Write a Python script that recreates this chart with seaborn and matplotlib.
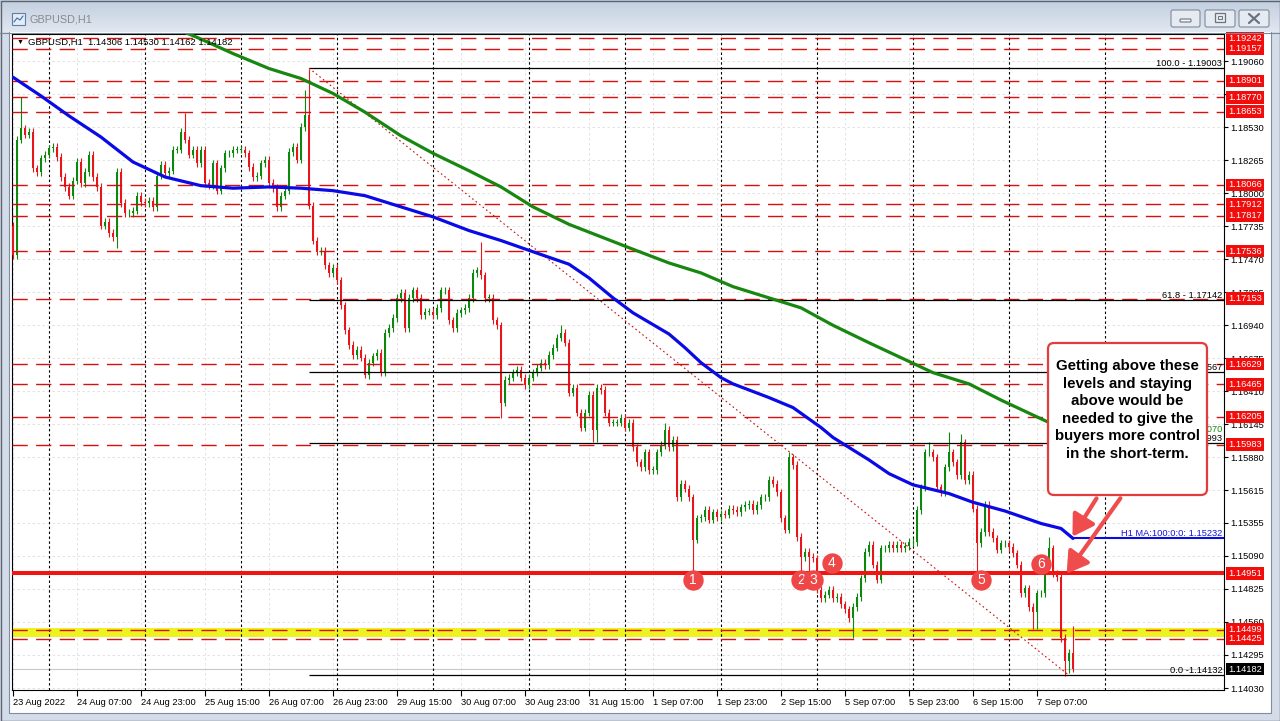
import numpy as np
import matplotlib
matplotlib.use("Agg")
import matplotlib.pyplot as plt
import seaborn as sns
from matplotlib.patches import Rectangle, FancyBboxPatch, FancyArrowPatch
from matplotlib.colors import LinearSegmentedColormap

# ---- data ----------------------------------------------------------------
# hourly GBPUSD closes in pips above 1.1400, bar 0 = 23 Aug 2022 15:00
close_pips = [
    350, 443, 452, 447, 449, 420, 417, 428, 431, 436,
    437, 429, 413, 405, 398, 410, 425, 408, 417, 431,
    413, 405, 374, 377, 368, 365, 417, 392, 384, 384,
    386, 398, 393, 392, 394, 389, 414, 423, 416, 418,
    435, 435, 449, 443, 431, 435, 424, 435, 408, 406,
    424, 402, 420, 432, 432, 435, 435, 435, 432, 421,
    413, 414, 424, 427, 408, 404, 389, 398, 402, 433,
    437, 427, 453, 463, 390, 362, 353, 354, 342, 336,
    340, 330, 310, 290, 278, 270, 274, 268, 254, 264,
    269, 272, 256, 288, 292, 300, 316, 320, 292, 316,
    322, 316, 302, 305, 305, 302, 308, 322, 322, 298,
    292, 304, 306, 308, 316, 336, 338, 334, 316, 316,
    298, 294, 232, 250, 252, 256, 258, 252, 246, 252,
    256, 260, 264, 262, 270, 276, 284, 288, 280, 240,
    244, 224, 212, 224, 238, 210, 244, 242, 224, 216,
    216, 216, 220, 212, 216, 196, 184, 180, 192, 178,
    178, 192, 198, 210, 196, 202, 156, 167, 163, 156,
    122, 139, 140, 146, 138, 144, 140, 143, 142, 147,
    146, 144, 148, 150, 151, 146, 150, 156, 156, 170,
    167, 160, 139, 130, 188, 182, 124, 108, 112, 108,
    107, 82, 75, 78, 82, 75, 76, 70, 66, 59,
    68, 76, 91, 112, 118, 102, 90, 115, 115, 118,
    115, 118, 115, 117, 120, 120, 146, 164, 192, 192,
    188, 164, 160, 180, 192, 184, 174, 200, 170, 174,
    147, 119, 128, 150, 128, 123, 114, 119, 119, 116,
    111, 102, 79, 83, 68, 64, 79, 79, 103, 115,
    95, 92, 43, 25, 31, 18,
]
first_open_pips = 374
# bars whose wicks stick out well past the body
high_pips = {2: 477, 43: 464, 73: 483, 74: 500, 117: 361, 137: 294, 163: 216,
             194: 192, 229: 200, 234: 208, 237: 207, 259: 124, 265: 53}
low_pips = {26: 356, 88: 252, 122: 220, 145: 200, 146: 200, 170: 96, 197: 96,
            199: 96, 210: 43, 241: 96, 255: 50, 256: 50, 263: 13, 264: 15, 265: 16}

# moving averages (bar index, pips above 1.1400)
ma100_bars = [0, 7, 14, 22, 30, 38, 47, 55, 64, 72, 80, 88, 97, 105, 114, 122, 130,
              139, 144, 150, 155, 164, 168, 172, 177, 180, 189, 195, 202, 205, 214,
              219, 225, 234, 240, 248, 257, 262, 265]
ma100_pips = [493, 478, 462, 445, 425, 413, 406, 404, 405, 404, 402, 398, 389, 381,
              370, 362, 353, 343, 332, 316, 304, 287, 276, 264, 252, 247, 236, 228,
              212, 204, 186, 175, 166, 159, 152, 145, 135, 131, 123]
ma200_bars = [43, 46, 55, 64, 72, 80, 88, 97, 105, 114, 122, 130, 139, 147, 155, 164,
              172, 180, 189, 197, 205, 214, 222, 230, 239, 247, 255, 259, 265]
ma200_pips = [529, 525, 512, 500, 492, 480, 465, 446, 432, 418, 405, 389, 375, 365,
              355, 344, 336, 325, 316, 308, 294, 280, 268, 256, 247, 234, 222, 216, 207]
ma100_last = 1.15232
ma200_last = 1.16070

dashed_levels = [1.19242, 1.19157, 1.18901, 1.18770, 1.18653, 1.18066, 1.17912,
                 1.17817, 1.17536, 1.17153, 1.16629, 1.16465, 1.16205, 1.15983,
                 1.14499, 1.14425]
key_level = 1.14951
support_zone = [1.14439, 1.14511]

fib_names = ['100.0', '61.8', '50.0', '38.2', '0.0']
fib_prices = [1.19003, 1.17142, 1.16567, 1.15993, 1.14132]
fib_bars = [74, 264]

price_ticks = [1.14030, 1.14295, 1.14560, 1.14825, 1.15090, 1.15355, 1.15615,
               1.15880, 1.16145, 1.16410, 1.16675, 1.16940, 1.17205, 1.17470,
               1.17735, 1.18000, 1.18265, 1.18530, 1.18795, 1.19060]
time_tick_bars = [0, 16, 32, 48, 64, 80, 96, 112, 128, 144, 160, 176, 192, 208,
                  224, 240, 256]
time_tick_labels = ['23 Aug 2022', '24 Aug 07:00', '24 Aug 23:00', '25 Aug 15:00',
                    '26 Aug 07:00', '26 Aug 23:00', '29 Aug 15:00', '30 Aug 07:00',
                    '30 Aug 23:00', '31 Aug 15:00', '1 Sep 07:00', '1 Sep 23:00',
                    '2 Sep 15:00', '5 Sep 07:00', '5 Sep 23:00', '6 Sep 15:00',
                    '7 Sep 07:00']
day_start_bars = [9, 33, 57, 81, 105, 129, 153, 177, 201, 225, 249, 273]

touch_labels = ['1', '2', '3', '4', '5', '6']
touch_bars = [170, 197, 200, 204.75, 242, 257]
touch_prices = [1.14896, 1.14896, 1.14896, 1.15033, 1.14896, 1.15025]

last_ohlc = [1.14306, 1.14530, 1.14162, 1.14182]

callout = ("Getting above these\nlevels and staying\nabove would be\n"
           "needed to give the\nbuyers more control\nin the short-term.")

# ---- build candles -------------------------------------------------------
closes = 1.14 + np.array(close_pips) / 1e4
opens = np.r_[1.14 + first_open_pips / 1e4, closes[:-1]]
highs = np.maximum(opens, closes) + 0.0003
lows = np.minimum(opens, closes) - 0.0003
for b, v in high_pips.items():
    highs[b] = max(1.14 + v / 1e4, max(opens[b], closes[b]))
for b, v in low_pips.items():
    lows[b] = min(1.14 + v / 1e4, min(opens[b], closes[b]))
bars = np.arange(len(closes))
bull = closes >= opens

sns.set_theme(style="white")
plt.rcParams['font.family'] = ['Liberation Sans', 'DejaVu Sans']
plt.rcParams['axes.unicode_minus'] = False

GREEN = '#0c880c'
RED = '#e8161b'
XMAX = 302.75
YMIN, YMAX = 1.14014, 1.19277
SMALL = 6.7

fig = plt.figure(figsize=(12.8, 7.21), dpi=100)
fig.patch.set_facecolor('white')
ax = fig.add_axes([12 / 1280, 31 / 721, 1212 / 1280, 656 / 721])
ax.set_facecolor('white')
ax.set_xlim(-0.25, XMAX)
ax.set_ylim(YMIN, YMAX)

# grid + period separators
ax.set_xticks(time_tick_bars)
ax.set_yticks(price_ticks)
ax.grid(True, color='#dedede', lw=0.6, ls=(0, (3, 3)))
ax.set_axisbelow(True)
ax.vlines(day_start_bars, YMIN, YMAX, colors='black', lw=0.8, ls=(0, (2.2, 2.2)), zorder=1.5)

# support zone and levels
ax.axhspan(support_zone[0], support_zone[1], color='#eef21e', lw=0, zorder=1)
ax.axhline(last_ohlc[3], color='#c8c8c8', lw=0.8, zorder=1.2)

# candles
cols = np.where(bull, GREEN, RED)
ax.vlines(bars, lows, highs, colors=cols, lw=0.8, zorder=3)
ax.bar(bars, np.maximum(np.abs(closes - opens), 0.00004), bottom=np.minimum(opens, closes),
       width=0.72, color=cols, lw=0, zorder=3.1)

for lv in dashed_levels:
    ax.axhline(lv, color='#d80f0f', lw=1.0, ls=(0, (11, 6)), zorder=3.5)
ax.axhline(key_level, color='#f21313', lw=2.9, zorder=3.6)

# fibonacci retracement
ax.hlines(fib_prices, fib_bars[0], XMAX, colors='black', lw=0.9, zorder=3.7)
ax.plot(fib_bars, [fib_prices[0], fib_prices[-1]], color='#c81010', lw=0.8,
        ls=(0, (1.5, 2.5)), zorder=3.7)
ytr = ax.get_yaxis_transform()
for name, p in zip(fib_names, fib_prices):
    sep = ' -' if name == '0.0' else ' - '
    ax.text(0.9985, p, f'{name}{sep}{p:.5f}', transform=ytr, ha='right', va='bottom',
            fontsize=SMALL, color='black', zorder=5)

# moving averages
sns.lineplot(x=ma200_bars, y=1.14 + np.array(ma200_pips) / 1e4, ax=ax, color='#17870f',
             lw=2.3, estimator=None, zorder=4)
sns.lineplot(x=ma100_bars, y=1.14 + np.array(ma100_pips) / 1e4, ax=ax, color='#0a0ae6',
             lw=2.3, estimator=None, zorder=4.1)
ax.hlines(ma100_last, ma100_bars[-1], XMAX, colors='#0a0ae6', lw=1.5, zorder=4)
ax.text(0.9985, ma100_last, f'H1 MA:100:0:0: {ma100_last:.5f}', transform=ytr,
        ha='right', va='bottom', fontsize=SMALL, color='#1414d2', zorder=5)
ax.text(0.9985, ma200_last, f'H1 MA:200:0:0: {ma200_last:.5f}', transform=ytr,
        ha='right', va='bottom', fontsize=SMALL, color='#17870f', zorder=4.9)

# numbered touches
for k, (lbl, b, p) in enumerate(zip(touch_labels, touch_bars, touch_prices)):
    ax.scatter([b], [p], s=215, color='#ef4747', lw=0, zorder=7 + k * 0.1)
    ax.text(b, p, lbl, ha='center', va='center', color='white', fontsize=10,
            zorder=7.05 + k * 0.1)

# axes styling
ax.set_xlabel('')
ax.set_ylabel('')
ax.yaxis.tick_right()
ax.set_yticklabels([f'{t:.5f}' for t in price_ticks])
ax.set_xticklabels(time_tick_labels, ha='left')
ax.tick_params(axis='y', right=True, left=False, length=3, width=0.8, pad=1.5,
               labelsize=SMALL, colors='black', direction='out')
ax.tick_params(axis='x', bottom=True, length=4, width=0.8, pad=2,
               labelsize=SMALL, colors='black', direction='out')
for s in ax.spines.values():
    s.set_color('black')
    s.set_linewidth(0.8)


def price_tag(p, fc):
    ax.text(1.0034, p, f'{p:.5f}', transform=ytr, ha='left', va='center', fontsize=SMALL,
            color='white', zorder=8, clip_on=False,
            bbox=dict(boxstyle='square,pad=0.2', fc=fc, ec='none'))


for lv in dashed_levels + [key_level]:
    price_tag(lv, '#f20d0d')
price_tag(last_ohlc[3], 'black')

# ---- window chrome and callout (pixel space) -----------------------------
deco = fig.add_axes([0, 0, 1, 1], zorder=20)
deco.patch.set_alpha(0)
deco.axis('off')
tb = LinearSegmentedColormap.from_list('tb', ['#c3cfdf', '#e0e7f0'])
deco.imshow(np.linspace(0, 1, 32).reshape(-1, 1), extent=(0, 1280, 32, 0), cmap=tb,
            aspect='auto', zorder=0)
frame = '#d3dce8'
for x, y, w, h in [(0, 32, 9, 689), (1271, 32, 9, 689), (0, 713, 1280, 8)]:
    deco.add_patch(Rectangle((x, y), w, h, fc=frame, ec='none', zorder=0))
deco.plot([9, 9], [32, 713], color='#7f8d9d', lw=0.8)
deco.plot([1271, 1271], [32, 713], color='#7f8d9d', lw=0.8)
deco.plot([9, 1271], [713, 713], color='#7f8d9d', lw=0.8)
deco.plot([0, 1280], [32.5, 32.5], color='#7b8898', lw=0.8)
deco.add_patch(Rectangle((0.5, 0.5), 1279, 720, fill=False, ec='#5b6470', lw=1))

# title + icon
deco.add_patch(Rectangle((12, 13), 13, 12, fc='#e4ecf6', ec='#5f7fa8', lw=0.8))
deco.plot([14, 17, 20, 23], [22, 18, 20, 16], color='#3a6ab0', lw=0.8)
deco.text(30, 19, 'GBPUSD,H1', color='#8a8a8a', fontsize=7.8, va='center')

# window buttons
for bx, bw in [(1171, 29), (1205, 30), (1239, 30)]:
    deco.add_patch(FancyBboxPatch((bx, 10), bw, 17, boxstyle='round,pad=0,rounding_size=2',
                                  fc='#e6ebf2', ec='#7f8b99', lw=0.8))
deco.add_patch(FancyBboxPatch((1180, 19), 11, 3, boxstyle='round,pad=0,rounding_size=1',
                              fc='#f4f6f9', ec='#6a7480', lw=0.8))
deco.add_patch(Rectangle((1215, 13), 10, 9, fill=False, ec='#6a7480', lw=0.9))
deco.add_patch(Rectangle((1218, 16), 4, 3, fill=False, ec='#6a7480', lw=0.7))
deco.plot([1249, 1259], [14, 23], color='#6a7480', lw=1.6)
deco.plot([1249, 1259], [23, 14], color='#6a7480', lw=1.6)

# chart header
deco.text(17, 42.5, '\u25BC', fontsize=5, va='center', color='black')
o, h, l, c = last_ohlc
deco.text(28, 42.5, f'GBPUSD,H1  {o:.5f} {h:.5f} {l:.5f} {c:.5f}', fontsize=6.8,
          va='center', color='black')

# callout box and arrows
deco.add_patch(FancyBboxPatch((1048, 343), 159, 152, boxstyle='round,pad=0,rounding_size=6',
                              fc='white', ec='#e23c3c', lw=1.6, zorder=5))
deco.text(1127.5, 410, callout, ha='center', va='center', fontsize=10.8,
          fontweight='bold', linespacing=1.33, color='black', zorder=6)
for tail, head in [((1098, 496), (1071, 539)), ((1122, 496), (1065, 576))]:
    deco.add_patch(FancyArrowPatch(tail, head, arrowstyle='-|>,head_length=0.9,head_width=0.55',
                                   mutation_scale=14, lw=3.0, color='#ef4d4d', zorder=6))

deco.set_xlim(0, 1280)
deco.set_ylim(721, 0)

fig.savefig('out.png', dpi=100)
